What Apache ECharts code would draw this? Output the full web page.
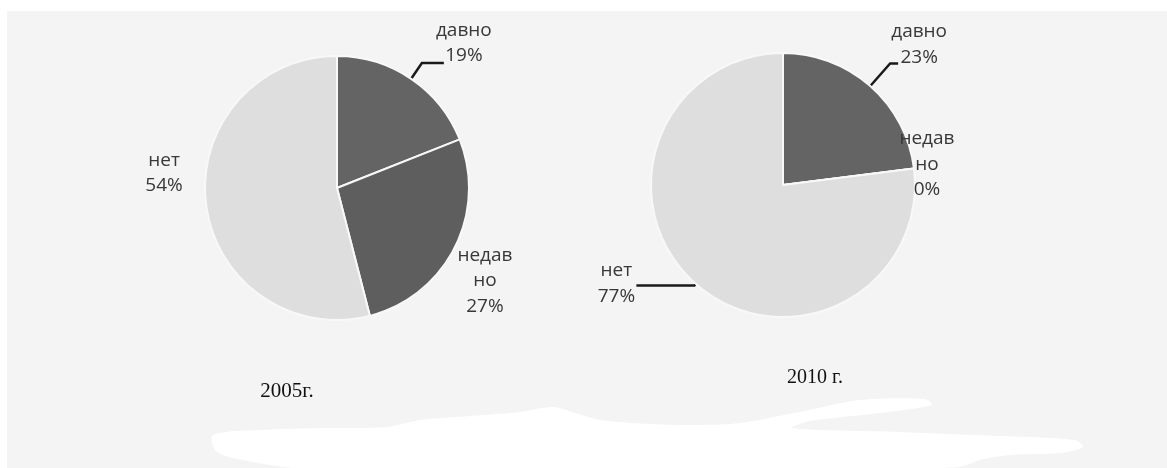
<!DOCTYPE html>
<html>
<head>
<meta charset="utf-8">
<script src="https://cdn.jsdelivr.net/npm/echarts@6/dist/echarts.min.js"></script>
<style>
  html, body { margin: 0; padding: 0; background: #ffffff; }
  #chart { width: 1167px; height: 468px; }
</style>
</head>
<body>
<div id="chart"></div>
<script>
// ---- data ----
const categories = ['давно', 'недавно', 'нет'];
const values2005 = [19, 27, 54];
const values2010 = [23, 0, 77];
const titles = ['2005г.', '2010 г.'];

// ---- styling (not data) ----
const sliceColors = ['#646464', '#5e5e5e', '#dedede'];
// per-slice label tweaks [series][slice]
const labelStyle = [
  [ { line: true, l1: 19, l2: 22, dx: 15, dy: -20 }, { line: false, l1: 6, l2: 4, dx: 16, dy: 30 }, { line: false, l1: 6, l2: 4, dx: -27, dy: -32 } ],
  [ { line: true, l1: 30, l2: 8, dx: 16, dy: -19 }, { line: false, l1: 2, l2: 2, dx: 4, dy: -4 }, { line: true, l1: 2, l2: 58, dx: -15, dy: -2 } ]
];

function buildData(vals, si) {
  return categories.map((name, i) => ({
    name: name,
    value: vals[i],
    itemStyle: { color: sliceColors[i] },
    labelLine: {
      show: labelStyle[si][i].line,
      length: labelStyle[si][i].l1,
      length2: labelStyle[si][i].l2,
      lineStyle: { color: '#1a1a1a', width: 2.5 }
    }
  }));
}

const labelCommon = {
  show: true,
  position: 'outside',
  alignTo: 'none',
  fontFamily: '"Open Sans", "DejaVu Sans", sans-serif',
  fontSize: 19,
  lineHeight: 25.5,
  color: '#383838',
  formatter: p => (p.name === 'недавно' ? 'недав\nно' : p.name) + '\n' + Math.round(p.percent) + '%'
};

function makeSeries(vals, si, center, radius) {
  return {
    type: 'pie',
    center: center,
    radius: radius,
    startAngle: 90,
    clockwise: true,
    avoidLabelOverlap: false,
    silent: true,
    animation: false,
    itemStyle: { borderColor: '#f8f8f8', borderWidth: 2 },
    label: Object.assign({}, labelCommon, { textAlign: 'center' }),
    labelLayout: function (p) {
      const s = labelStyle[si][p.dataIndex];
      return { dx: s.dx, dy: s.dy, align: 'center' };
    },
    data: buildData(vals, si)
  };
}

const chart = echarts.init(document.getElementById('chart'), null, { renderer: 'canvas' });

const scribble = [
  [213,435],[260,430],[330,428],[387,427],[420,420],[457,417],[520,412],[553,407],[575,413],[600,420],
  [650,424],[700,425],[740,423],[800,412],[860,400],[925,399],[932,405],[880,413],[810,421],[792,428],
  [900,432],[1000,436],[1075,440],[1083,447],[1060,453],[1010,455],[980,460],[963,466],[940,468],
  [300,468],[233,458],[215,450]
];

chart.setOption({
  backgroundColor: '#ffffff',
  graphic: [
    { type: 'rect', z: -10, silent: true, shape: { x: 7, y: 11, width: 1160, height: 457 }, style: { fill: '#f4f4f4' } },
    { type: 'polygon', z: 10, silent: true, shape: { points: scribble, smooth: 0.3 }, style: { fill: '#ffffff' } }
  ],
  title: [
    { text: titles[0], left: 282, top: 376, textAlign: 'center',
      textStyle: { fontFamily: '"Liberation Serif", "DejaVu Serif", serif', fontSize: 21, fontWeight: 'normal', color: '#111' } },
    { text: titles[1], left: 810, top: 363, textAlign: 'center',
      textStyle: { fontFamily: '"Liberation Serif", "DejaVu Serif", serif', fontSize: 20, fontWeight: 'normal', color: '#111' } }
  ],
  series: [
    makeSeries(values2005, 0, [337, 188], 132),
    makeSeries(values2010, 1, [783, 185], 132)
  ]
});
</script>
</body>
</html>
